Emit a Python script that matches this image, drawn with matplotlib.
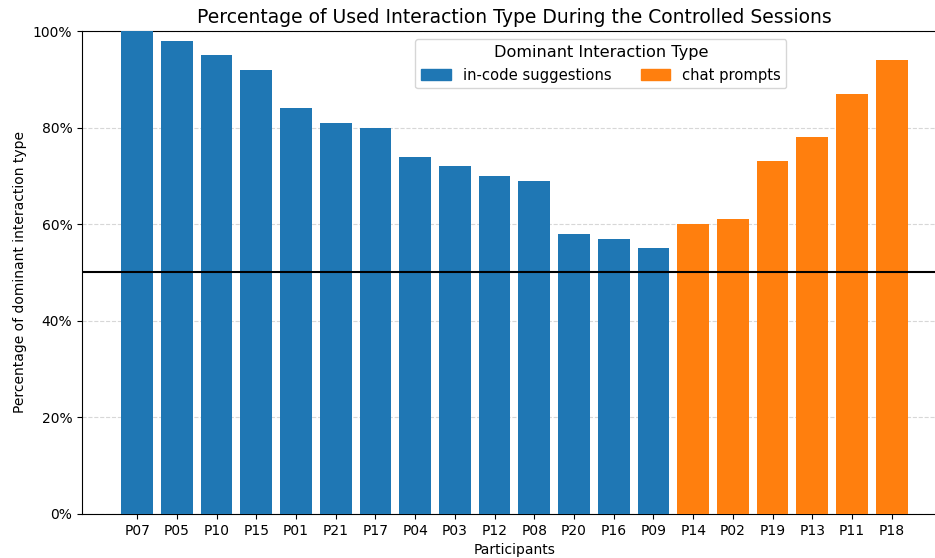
import numpy as np
import matplotlib.pyplot as plt
from matplotlib.patches import Patch
from matplotlib.ticker import PercentFormatter

# data
participants = ["P07", "P05", "P10", "P15", "P01", "P21", "P17", "P04", "P03", "P12",
                "P08", "P20", "P16", "P09", "P14", "P02", "P19", "P13", "P11", "P18"]
percent = [100, 98, 95, 92, 84, 81, 80, 74, 72, 70,
           69, 58, 57, 55, 60, 61, 73, 78, 87, 94]
dominant = ["in-code suggestions"] * 14 + ["chat prompts"] * 6

colors = {"in-code suggestions": "#1f77b4", "chat prompts": "#ff7f0e"}

fig = plt.figure(figsize=(9.35, 5.58), dpi=100)
ax = fig.add_axes([0.0877, 0.0789, 0.925, 0.8655])

x = np.arange(len(participants))
ax.bar(x, percent, width=0.8, color=[colors[d] for d in dominant], zorder=3)
ax.axhline(50, color="black", lw=1.5, zorder=4)

ax.set_xticks(x)
ax.set_xticklabels(participants)
ax.set_ylim(0, 100)
ax.yaxis.set_major_formatter(PercentFormatter(100, decimals=0))
ax.grid(axis="y", linestyle="--", color="lightgray", alpha=0.9, zorder=0)

ax.set_title("Percentage of Used Interaction Type During the Controlled Sessions", fontsize=13.5)
ax.set_xlabel("Participants")
ax.set_ylabel("Percentage of dominant interaction type")

handles = [Patch(color=colors[k], label=k) for k in colors]
ax.legend(handles=handles, title="Dominant Interaction Type", ncol=2,
          loc="upper center", bbox_to_anchor=(0.6, 0.998), fontsize=10.6, title_fontsize=11.6)

fig.savefig("out.png", dpi=100)
